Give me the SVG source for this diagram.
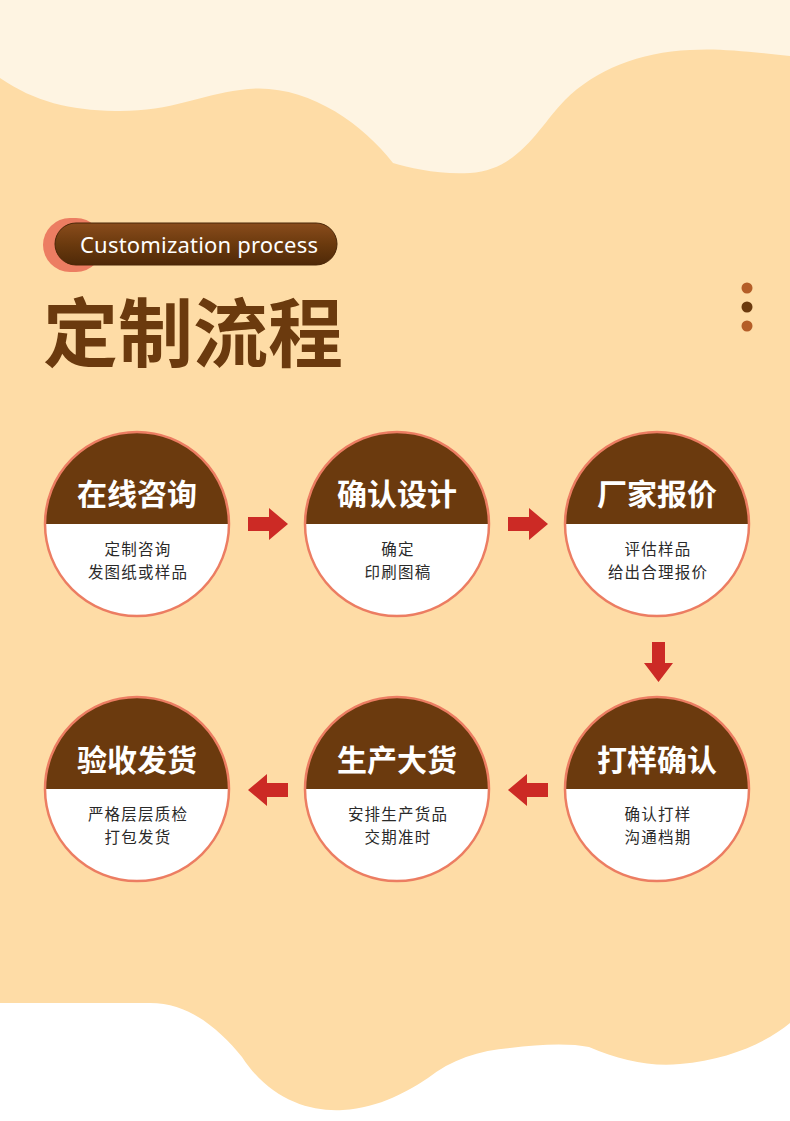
<svg xmlns="http://www.w3.org/2000/svg" width="790" height="1121" viewBox="0 0 790 1121">
<defs>
<style>
.top{fill:#6b3a0e}
.bot{fill:#ffffff}
.ring{fill:none;stroke:#ec7d62;stroke-width:2.5}
.ttl{font-family:"Noto Sans CJK SC","Noto Sans",sans-serif;font-weight:700;font-size:30px;fill:#ffffff;text-anchor:middle}
.sub{font-family:"Noto Sans CJK SC","Noto Sans",sans-serif;font-size:15.5px;letter-spacing:1.2px;fill:#2a2a2a;text-anchor:middle}
.arw{fill:#cc2a25}
</style>
<linearGradient id="pillg" x1="0" y1="0" x2="0" y2="1">
<stop offset="0" stop-color="#8a4c1c"/>
<stop offset="0.5" stop-color="#6b3a0e"/>
<stop offset="1" stop-color="#4f2908"/>
</linearGradient>
</defs>
<rect width="790" height="1121" fill="#fedca6"/>
<path d="M0,0 H790 V56 C750,52 720,48 690,50 C640,52 595,70 565,100 C540,125 520,170 470,173 C440,175 410,168 393,163 C360,120 300,80 240,90 C200,95 170,112 115,111 C70,110 35,102 0,78 Z" fill="#fef4e2"/>
<path d="M0,1003 H150 C190,1003 220,1030 242,1057 C270,1100 310,1112 343,1110 C380,1108 410,1090 428,1078 C450,1060 480,1050 510,1048 C540,1044 570,1043 589,1047 C620,1060 650,1067 680,1064 C730,1060 770,1040 790,1023 V1121 H0 Z" fill="#ffffff"/>
<g id="header">
<rect x="43" y="218" width="60" height="54" rx="27" fill="#ec7d62"/>
<rect x="55" y="223" width="282" height="42" rx="21" fill="url(#pillg)" stroke="#4a2606" stroke-width="1"/>
<text x="80" y="253" font-family="'Noto Sans','Open Sans',sans-serif" font-size="22" fill="#ffffff" textLength="238">Customization process</text>
</g>
<text id="title" x="43" y="361" font-family="'Noto Sans CJK SC',sans-serif" font-weight="700" font-size="75" fill="#6b3a0e" textLength="300">定制流程</text>
<g id="dots">
<circle cx="747" cy="288" r="5.5" fill="#b45e28"/>
<circle cx="747" cy="307" r="5.5" fill="#6b3a0e"/>
<circle cx="747" cy="326" r="5.5" fill="#b45e28"/>
</g>
<g id="node1">
<path class="top" d="M45,524 A92,92 0 0 1 229,524 Z"/>
<path class="bot" d="M45,524 A92,92 0 0 0 229,524 Z"/>
<circle class="ring" cx="137" cy="524" r="92"/>
<text class="ttl" x="137" y="505">在线咨询</text>
<text class="sub" x="138" y="555">定制咨询</text>
<text class="sub" x="138" y="578">发图纸或样品</text>
</g>
<g id="node2">
<path class="top" d="M305,524 A92,92 0 0 1 489,524 Z"/>
<path class="bot" d="M305,524 A92,92 0 0 0 489,524 Z"/>
<circle class="ring" cx="397" cy="524" r="92"/>
<text class="ttl" x="397" y="505">确认设计</text>
<text class="sub" x="398" y="555">确定</text>
<text class="sub" x="398" y="578">印刷图稿</text>
</g>
<g id="node3">
<path class="top" d="M565,524 A92,92 0 0 1 749,524 Z"/>
<path class="bot" d="M565,524 A92,92 0 0 0 749,524 Z"/>
<circle class="ring" cx="657" cy="524" r="92"/>
<text class="ttl" x="657" y="505">厂家报价</text>
<text class="sub" x="658" y="555">评估样品</text>
<text class="sub" x="658" y="578">给出合理报价</text>
</g>
<g id="node4">
<path class="top" d="M565,789 A92,92 0 0 1 749,789 Z"/>
<path class="bot" d="M565,789 A92,92 0 0 0 749,789 Z"/>
<circle class="ring" cx="657" cy="789" r="92"/>
<text class="ttl" x="657" y="771">打样确认</text>
<text class="sub" x="658" y="820">确认打样</text>
<text class="sub" x="658" y="843">沟通档期</text>
</g>
<g id="node5">
<path class="top" d="M305,789 A92,92 0 0 1 489,789 Z"/>
<path class="bot" d="M305,789 A92,92 0 0 0 489,789 Z"/>
<circle class="ring" cx="397" cy="789" r="92"/>
<text class="ttl" x="397" y="771">生产大货</text>
<text class="sub" x="398" y="820">安排生产货品</text>
<text class="sub" x="398" y="843">交期准时</text>
</g>
<g id="node6">
<path class="top" d="M45,789 A92,92 0 0 1 229,789 Z"/>
<path class="bot" d="M45,789 A92,92 0 0 0 229,789 Z"/>
<circle class="ring" cx="137" cy="789" r="92"/>
<text class="ttl" x="137" y="771">验收发货</text>
<text class="sub" x="138" y="820">严格层层质检</text>
<text class="sub" x="138" y="843">打包发货</text>
</g>
<g id="connectors">
<polygon class="arw" points="248,517 269,517 269,508 288,524 269,540 269,531 248,531"/>
<polygon class="arw" points="508,517 529,517 529,508 548,524 529,540 529,531 508,531"/>
<polygon class="arw" points="652,642 665,642 665,663 673,663 658.5,682 644,663 652,663"/>
<polygon class="arw" points="548,783 527,783 527,774 508,790 527,806 527,797 548,797"/>
<polygon class="arw" points="288,783 267,783 267,774 248,790 267,806 267,797 288,797"/>
</g>
</svg>
